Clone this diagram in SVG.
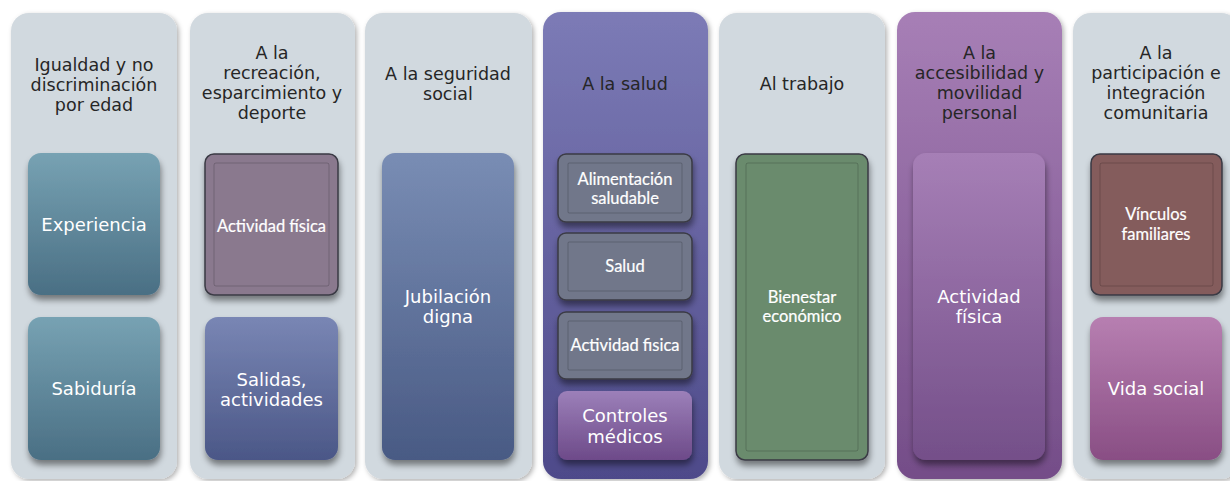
<svg xmlns="http://www.w3.org/2000/svg" width="1230" height="481" viewBox="0 0 1230 481">
<defs>
<style>
.col{fill:#D1D9DF}
.hd{font-family:"DejaVu Sans",sans-serif;font-size:17.5px;fill:#262626;text-anchor:middle}
.bt{font-family:"DejaVu Sans",sans-serif;font-size:18px;fill:#ffffff;text-anchor:middle}
.gt{font-family:Lato,"Liberation Sans",sans-serif;font-size:16.5px;fill:#ffffff;stroke:#ffffff;stroke-width:0.2;text-anchor:middle;font-weight:400}
.bord{stroke:#3a3a44;stroke-width:1.5}
.inner{fill:none;stroke:#000000;stroke-opacity:0.18;stroke-width:1}
</style>
<linearGradient id="gTeal" x1="0" y1="0" x2="0" y2="1"><stop offset="0" stop-color="#77A2B3"/><stop offset="1" stop-color="#4A6F84"/></linearGradient>
<linearGradient id="gBlue" x1="0" y1="0" x2="0" y2="1"><stop offset="0" stop-color="#7986B4"/><stop offset="1" stop-color="#4B5787"/></linearGradient>
<linearGradient id="gSteel" x1="0" y1="0" x2="0" y2="1"><stop offset="0" stop-color="#798DB4"/><stop offset="1" stop-color="#495A84"/></linearGradient>
<linearGradient id="gCol4" x1="0" y1="0" x2="0" y2="1"><stop offset="0" stop-color="#7C7BB6"/><stop offset="1" stop-color="#4E4A8A"/></linearGradient>
<linearGradient id="gCol6" x1="0" y1="0" x2="0" y2="1"><stop offset="0" stop-color="#A77FB6"/><stop offset="1" stop-color="#744D88"/></linearGradient>
<linearGradient id="gBox6" x1="0" y1="0" x2="0" y2="1"><stop offset="0" stop-color="#A67FB6"/><stop offset="1" stop-color="#744F89"/></linearGradient>
<linearGradient id="gCtrl" x1="0" y1="0" x2="0" y2="1"><stop offset="0" stop-color="#9C80B9"/><stop offset="1" stop-color="#6D4A89"/></linearGradient>
<linearGradient id="gPink" x1="0" y1="0" x2="0" y2="1"><stop offset="0" stop-color="#B77FB1"/><stop offset="1" stop-color="#894E84"/></linearGradient>
<filter id="colSh" x="-10%" y="-5%" width="125%" height="115%"><feDropShadow dx="2" dy="2" stdDeviation="2.5" flood-color="#000" flood-opacity="0.3"/></filter>
<filter id="boxSh" x="-10%" y="-10%" width="125%" height="130%"><feDropShadow dx="1" dy="5" stdDeviation="3" flood-color="#000" flood-opacity="0.45"/></filter>
</defs>

<g id="col1">
<rect class="col" x="11" y="13" width="166" height="466" rx="18" filter="url(#colSh)"/>
<text class="hd" x="94" y="71">Igualdad y no</text>
<text class="hd" x="94" y="91">discriminación</text>
<text class="hd" x="94" y="111">por edad</text>
<g id="experiencia">
<rect x="28" y="153" width="132" height="142" rx="13" fill="url(#gTeal)" filter="url(#boxSh)"/>
<text class="bt" x="94" y="231">Experiencia</text>
</g>
<g id="sabiduria">
<rect x="28" y="317" width="132" height="143" rx="13" fill="url(#gTeal)" filter="url(#boxSh)"/>
<text class="bt" x="94" y="395">Sabiduría</text>
</g>
</g>

<g id="col2">
<rect class="col" x="190" y="13" width="165" height="466" rx="18" filter="url(#colSh)"/>
<text class="hd" x="272" y="59">A la</text>
<text class="hd" x="272" y="79">recreación,</text>
<text class="hd" x="272" y="99">esparcimiento y</text>
<text class="hd" x="272" y="119">deporte</text>
<g id="actividad-fisica-1">
<rect class="bord" x="205" y="154" width="133" height="141" rx="9" fill="#8A798E" filter="url(#boxSh)"/>
<rect class="inner" x="214" y="163" width="115" height="123" rx="2"/>
<text class="gt" x="271.5" y="232">Actividad física</text>
</g>
<g id="salidas">
<rect x="205" y="317" width="133" height="143" rx="13" fill="url(#gBlue)" filter="url(#boxSh)"/>
<text class="bt" x="271.5" y="386">Salidas,</text>
<text class="bt" x="271.5" y="406">actividades</text>
</g>
</g>

<g id="col3">
<rect class="col" x="365" y="13" width="167" height="466" rx="18" filter="url(#colSh)"/>
<text class="hd" x="448" y="80">A la seguridad</text>
<text class="hd" x="448" y="100">social</text>
<g id="jubilacion">
<rect x="382" y="153" width="132" height="307" rx="13" fill="url(#gSteel)" filter="url(#boxSh)"/>
<text class="bt" x="448" y="303">Jubilación</text>
<text class="bt" x="448" y="323">digna</text>
</g>
</g>

<g id="col4">
<rect x="543" y="12" width="165" height="467" rx="18" fill="url(#gCol4)" filter="url(#colSh)"/>
<text class="hd" x="625" y="90">A la salud</text>
<g id="alimentacion">
<rect class="bord" x="558" y="154" width="134" height="68" rx="8" fill="#71778A" filter="url(#boxSh)"/>
<rect class="inner" x="568" y="163" width="114" height="50" rx="1"/>
<text class="gt" x="625" y="185">Alimentación</text>
<text class="gt" x="625" y="204">saludable</text>
</g>
<g id="salud">
<rect class="bord" x="558" y="233" width="134" height="67" rx="8" fill="#71778A" filter="url(#boxSh)"/>
<rect class="inner" x="568" y="242" width="114" height="49" rx="1"/>
<text class="gt" x="625" y="272">Salud</text>
</g>
<g id="actividad-fisica-2">
<rect class="bord" x="558" y="312" width="134" height="67" rx="8" fill="#71778A" filter="url(#boxSh)"/>
<rect class="inner" x="568" y="321" width="114" height="49" rx="1"/>
<text class="gt" x="625" y="351">Actividad fisica</text>
</g>
<g id="controles">
<rect x="558" y="391" width="134" height="69" rx="9" fill="url(#gCtrl)" filter="url(#boxSh)"/>
<text class="bt" x="625" y="422">Controles</text>
<text class="bt" x="625" y="443">médicos</text>
</g>
</g>

<g id="col5">
<rect class="col" x="719" y="13" width="166" height="466" rx="18" filter="url(#colSh)"/>
<text class="hd" x="802" y="90">Al trabajo</text>
<g id="bienestar">
<rect class="bord" x="736" y="154" width="132" height="306" rx="9" fill="#6A8B6D" filter="url(#boxSh)"/>
<rect class="inner" x="746" y="163" width="112" height="288" rx="2"/>
<text class="gt" x="802" y="303">Bienestar</text>
<text class="gt" x="802" y="322">económico</text>
</g>
</g>

<g id="col6">
<rect x="897" y="12" width="165" height="467" rx="18" fill="url(#gCol6)" filter="url(#colSh)"/>
<text class="hd" x="979.5" y="59">A la</text>
<text class="hd" x="979.5" y="79">accesibilidad y</text>
<text class="hd" x="979.5" y="99">movilidad</text>
<text class="hd" x="979.5" y="119">personal</text>
<g id="actividad-fisica-3">
<rect x="913" y="153" width="132" height="307" rx="13" fill="url(#gBox6)" filter="url(#boxSh)"/>
<text class="bt" x="979" y="303">Actividad</text>
<text class="bt" x="979" y="323">física</text>
</g>
</g>

<g id="col7">
<rect class="col" x="1073" y="13" width="166" height="466" rx="18" filter="url(#colSh)"/>
<text class="hd" x="1156" y="59">A la</text>
<text class="hd" x="1156" y="79">participación e</text>
<text class="hd" x="1156" y="99">integración</text>
<text class="hd" x="1156" y="119">comunitaria</text>
<g id="vinculos">
<rect class="bord" x="1091" y="154" width="131" height="141" rx="9" fill="#845B5B" filter="url(#boxSh)"/>
<rect class="inner" x="1100" y="163" width="113" height="123" rx="2"/>
<text class="gt" x="1156" y="220">Vínculos</text>
<text class="gt" x="1156" y="240">familiares</text>
</g>
<g id="vida-social">
<rect x="1090" y="317" width="132" height="143" rx="13" fill="url(#gPink)" filter="url(#boxSh)"/>
<text class="bt" x="1156" y="395">Vida social</text>
</g>
</g>

<g id="connectors"/>
</svg>
